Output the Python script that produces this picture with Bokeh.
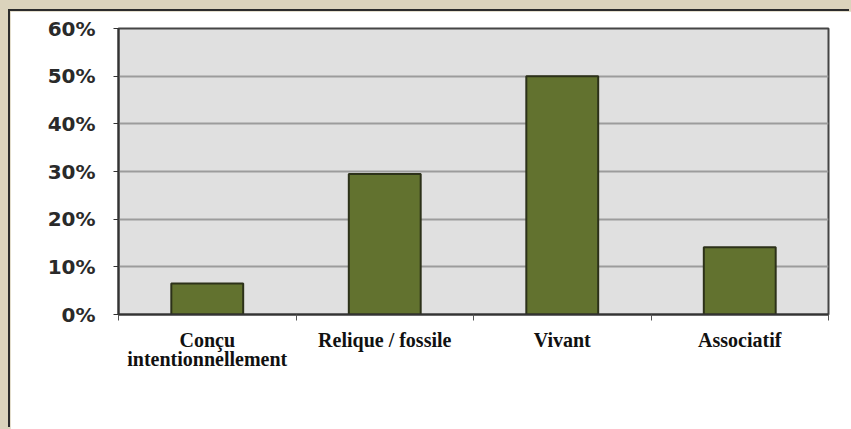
from bokeh.plotting import figure
from bokeh.layouts import column
from bokeh.models import Range1d, FixedTicker, NumeralTickFormatter, ColumnDataSource
from bokeh.embed import file_html
from bokeh.resources import INLINE

# ---- data ----
categories = ["Conçu\nintentionnellement", "Relique / fossile", "Vivant", "Associatif"]
values = [0.065, 0.295, 0.50, 0.141]
y_ticks = [0.0, 0.1, 0.2, 0.3, 0.4, 0.5, 0.6]

positions = [i + 0.5 for i in range(len(categories))]
boundaries = list(range(len(categories) + 1))

src = ColumnDataSource(dict(x=positions, top=values, label=categories))

p = figure(width=841, height=418, output_backend="svg", toolbar_location=None,
           x_range=Range1d(0, len(categories)), y_range=Range1d(0, 0.6),
           min_border_left=108, min_border_right=23, min_border_top=17, min_border_bottom=115)

p.background_fill_color = "#e0e0e0"
p.border_fill_color = "white"
p.outline_line_color = "#454545"
p.outline_line_width = 2

p.vbar(x="x", top="top", width=0.405, source=src,
       fill_color="#62722f", line_color="#2c3119", line_width=2)

# grid
p.xgrid.visible = False
p.ygrid.grid_line_color = "#9c9c9c"
p.ygrid.grid_line_width = 2
p.ygrid.ticker = FixedTicker(ticks=y_ticks)

# y axis
p.yaxis.ticker = FixedTicker(ticks=y_ticks)
p.yaxis.formatter = NumeralTickFormatter(format="0%")
p.yaxis.major_label_text_font = "DejaVu Sans"
p.yaxis.major_label_text_font_style = "bold"
p.yaxis.major_label_text_font_size = "20px"
p.yaxis.major_label_text_color = "#2a2a2a"
p.yaxis.major_tick_in = 0
p.yaxis.major_tick_out = 5
p.yaxis.minor_tick_line_color = None
p.yaxis.major_label_standoff = 18
p.yaxis.axis_line_color = "#333333"
p.yaxis.axis_line_width = 2
p.yaxis.major_tick_line_color = "#333333"

# x axis
p.xaxis.ticker = FixedTicker(ticks=positions, minor_ticks=boundaries)
p.xaxis.major_label_overrides = {pos: lab for pos, lab in zip(positions, categories)}
p.xaxis.major_tick_in = 0
p.xaxis.major_tick_out = 0
p.xaxis.minor_tick_in = 0
p.xaxis.minor_tick_out = 6
p.xaxis.minor_tick_line_color = "#555555"
p.xaxis.minor_tick_line_width = 1
p.xaxis.axis_line_color = "#333333"
p.xaxis.axis_line_width = 2
p.xaxis.major_label_text_font = "Liberation Serif"
p.xaxis.major_label_text_font_style = "bold"
p.xaxis.major_label_text_font_size = "20px"
p.xaxis.major_label_text_color = "#111111"
p.xaxis.major_label_text_line_height = 0.9
p.xaxis.major_label_standoff = 8

p.margin = (11, 0, 0, 10)
p.styles = {"box-shadow": "-2px -2px 0px 0px #2b2b2b"}
outer = column(p, styles={"background-color": "#dbd3bc"})

open("out.html", "w").write(file_html(outer, INLINE))
